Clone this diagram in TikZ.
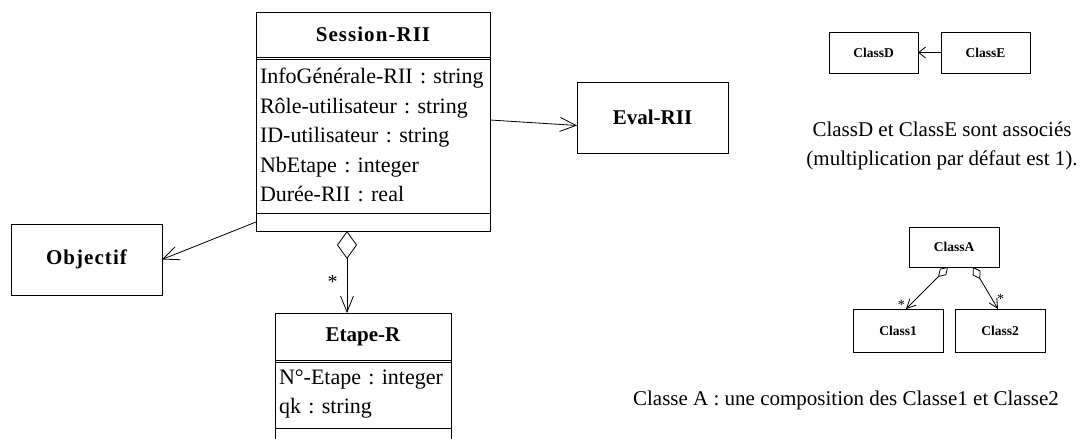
\documentclass[tikz,border=0pt]{standalone}
\usepackage{fontspec}
\setmainfont{Liberation Serif}
\newfontfamily\spacedfont[LetterSpace=5]{Liberation Serif}
\usetikzlibrary{arrows.meta}
\frenchspacing
\tikzset{
  umlnode/.style = {rectangle, inner sep=0pt, outer sep=0pt, draw=black, line width=1pt},
  % cls_T: title compartment of a class, bold name centered
  cls_T/.style = {umlnode, anchor=north west, font=\fontsize{21}{25}\selectfont\bfseries},
  cls_A/.style = {umlnode, anchor=north west, inner xsep=4pt, align=left, font=\fontsize{22}{29.5}\selectfont},
  cls_O/.style = {umlnode, anchor=north west},
  % small boxes of the legend
  box_S/.style = {umlnode, anchor=north west, minimum width=89pt, font=\fontsize{13.5}{15}\selectfont\bfseries},
  txt_N/.style = {inner sep=0pt, align=center, font=\fontsize{21}{29}\selectfont},
  star_L/.style = {inner sep=1pt, font=\fontsize{14}{14}\selectfont},
  assoc/.style = {-{Straight Barb[length=16pt,width=14pt]}, line width=0.8pt},
  aggr/.style = {{Diamond[open,length=28pt,width=20pt]}-{Straight Barb[length=16pt,width=13pt]}, line width=0.8pt},
  aggr_S/.style = {{Diamond[open,length=14pt,width=9pt]}-{Straight Barb[length=9pt,width=9pt]}, line width=0.8pt}
}
\begin{document}
\begin{tikzpicture}[x=1pt,y=-1pt]
    \useasboundingbox (0,0) rectangle (1082,439);
    % Session node:
    \node [cls_T, minimum width=234pt, minimum height=45pt] (sess_T) at (256,12) {\spacedfont Session-RII};
    \node [cls_A, text width=226pt, minimum height=156pt] (sess_A) at (sess_T.south west)
      {InfoGénérale-RII : string\\Rôle-utilisateur : string\\ID-utilisateur : string\\NbEtape : integer\\Durée-RII : real};
    \draw [line width=1pt] ([yshift=-2pt]sess_T.south west) -- ([yshift=-2pt]sess_T.south east);
    \node [cls_O, minimum width=234pt, minimum height=18pt] (sess_O) at (sess_A.south west) {};
    % Etape node:
    \node [cls_T, minimum width=176pt, minimum height=47pt] (etape_T) at (275,313) {Etape-R};
    \node [cls_A, text width=168pt, minimum height=68pt] (etape_A) at (etape_T.south west)
      {N°-Etape : integer\\qk : string};
    \draw [line width=1pt] ([yshift=-2pt]etape_T.south west) -- ([yshift=-2pt]etape_T.south east);
    \node [cls_O, minimum width=176pt, minimum height=30pt] (etape_O) at (etape_A.south west) {};
    % Objectif and Eval nodes:
    \node [cls_T, minimum width=151pt, minimum height=71pt] (obj) at (11,224) {\spacedfont Objectif};
    \node [cls_T, minimum width=151pt, minimum height=71pt] (eval) at (577,82) {Eval-RII};
    % connectors
    \draw [assoc] ([yshift=15pt]sess_A.east) -- ([yshift=-8pt]eval.west);
    \draw [assoc] (sess_O.west) -- (obj.east);
    \draw [aggr] ([xshift=-26pt]sess_O.south) -- ([xshift=-16pt]etape_T.north)
      node [star_L, pos=0.62, left=8pt, font=\fontsize{20}{20}\selectfont] {*};
    % Legend - association:
    \node [box_S, minimum height=41pt] (clsD) at (829,32) {ClassD};
    \node [box_S, minimum height=41pt] (clsE) at (941,32) {ClassE};
    \draw [-{Straight Barb[length=7pt,width=11pt]}, line width=0.8pt] (clsE.west) -- (clsD.east);
    \node [txt_N] (txt_assoc) at (942,146) {ClassD et ClassE sont associés\\(multiplication par défaut est 1).};
    % Legend - composition:
    \node [box_S, minimum width=90pt, minimum height=40pt] (clsA) at (909,227) {ClassA};
    \node [box_S, minimum width=90pt, minimum height=43pt] (cls1) at (853,309) {Class1};
    \node [box_S, minimum width=90pt, minimum height=43pt] (cls2) at (955,309) {Class2};
    \draw [aggr_S] ([xshift=-6pt]clsA.south) -- ([xshift=8pt]cls1.north)
      node [star_L, pos=0.9, left=4pt] {*};
    \draw [aggr_S] ([xshift=19pt]clsA.south) -- ([xshift=-2pt]cls2.north)
      node [star_L, pos=0.75, right=4pt] {*};
    \node [txt_N] (txt_comp) at (846,400) {Classe A : une composition des Classe1 et Classe2};
\end{tikzpicture}
\end{document}
